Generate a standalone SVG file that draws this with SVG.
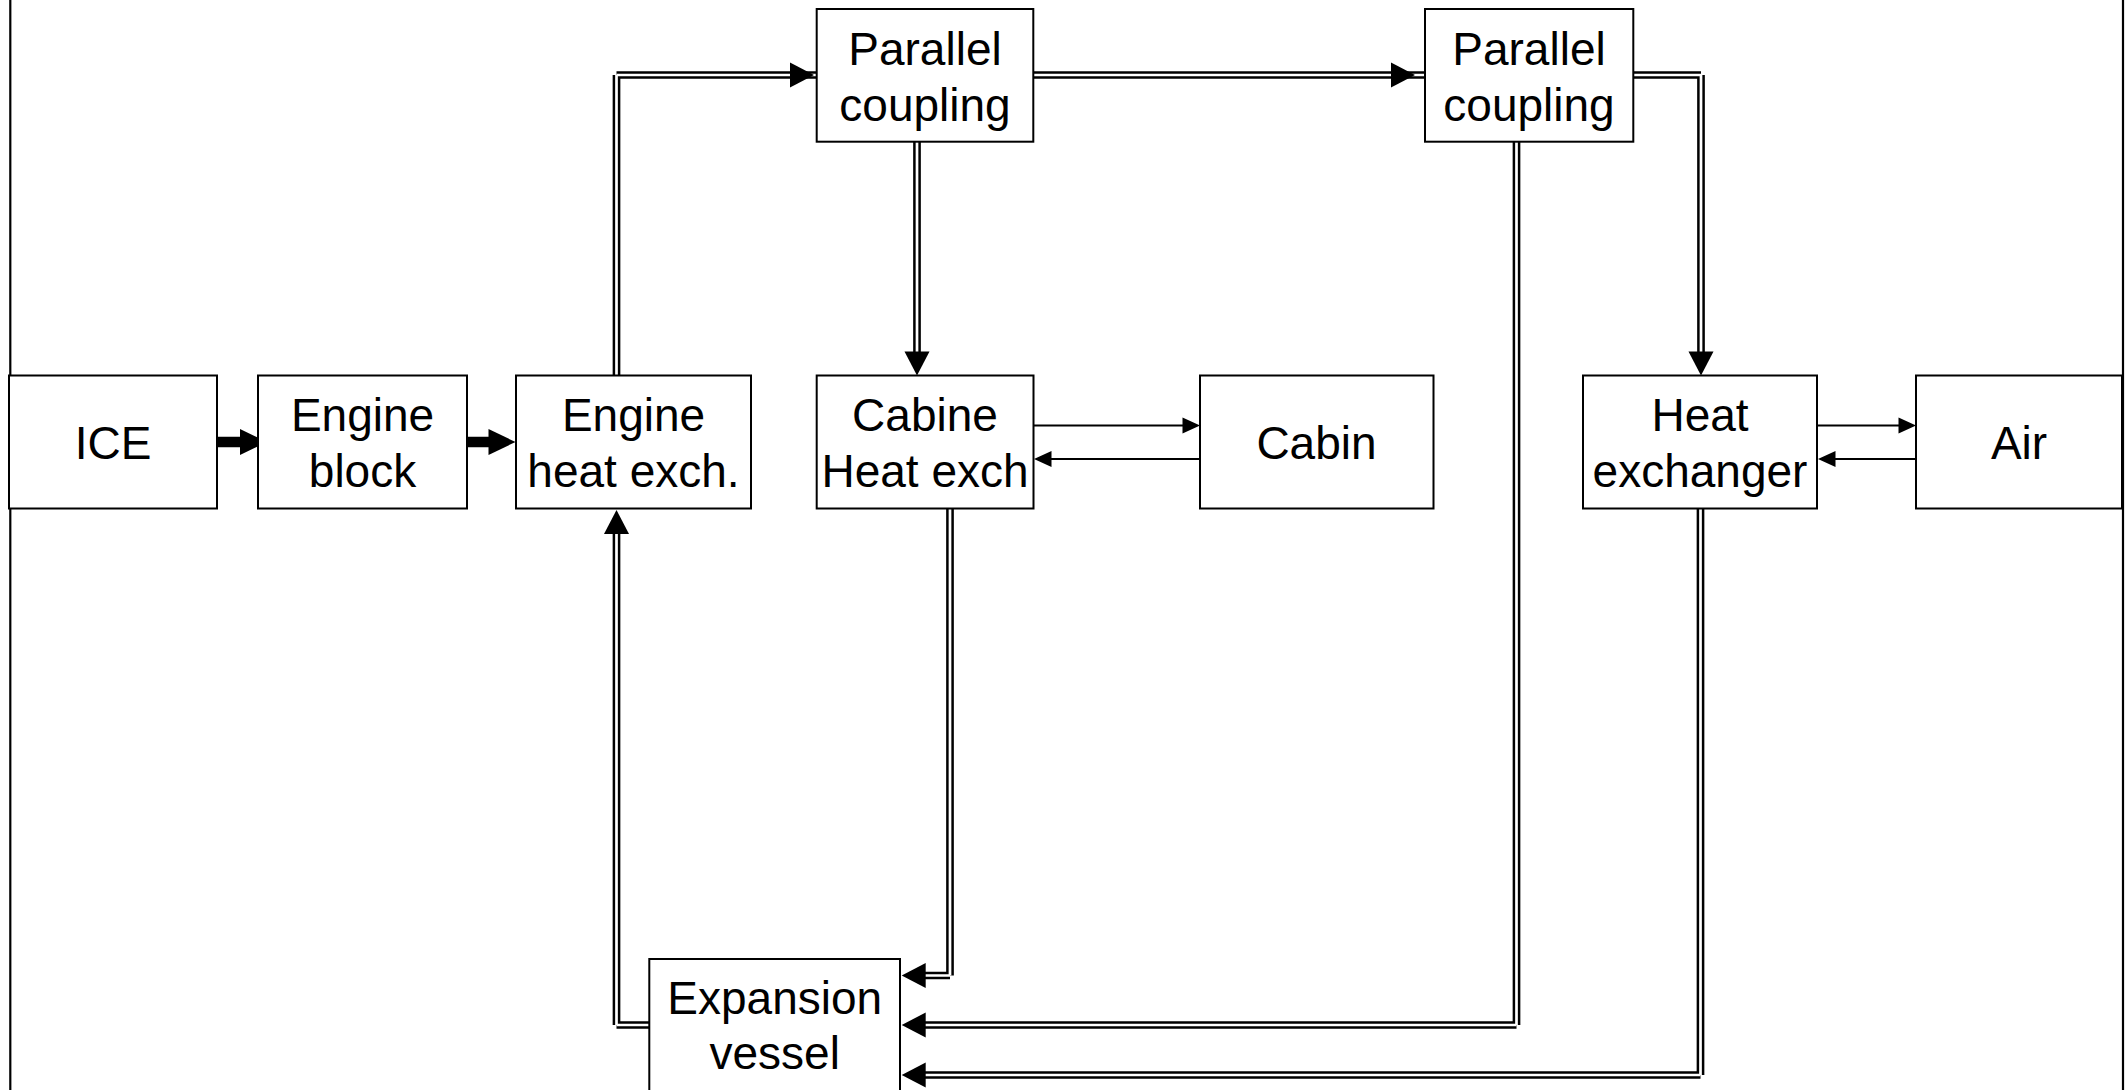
<svg xmlns="http://www.w3.org/2000/svg" xmlns:xlink="http://www.w3.org/1999/xlink" width="2127" height="1090" viewBox="0 0 2127 1090">
<style>
.box{fill:#fff;stroke:#000;stroke-width:2}
.lbl{font-family:"Liberation Sans",Arial,Helvetica,sans-serif;font-size:46px;fill:#000;text-anchor:middle}
.frame{stroke:#000;stroke-width:2.2;fill:none}
.db{fill:none;stroke:#000;stroke-width:7.7;stroke-linecap:butt}
.dw{fill:none;stroke:#fff;stroke-width:2.7;stroke-linecap:butt}
.thin{fill:none;stroke:#000;stroke-width:2}
.thick{fill:none;stroke:#000;stroke-width:10.5}
.ah{fill:#000}
</style>
<defs>
<polygon id="ahBig" points="-24,-12.5 0,0 -24,12.5"/>
<polygon id="ahSmall" points="-17.5,-8 0,0 -17.5,8"/>
<polygon id="ahThick" points="-27,-13 0,0 -27,13"/>
<path id="p1" d="M616.5,376 V75 M616.5,75 H816"/>
<path id="p2" d="M649,1025 H616.5 M616.5,1025 V530"/>
<path id="p3" d="M1034,75 H1425"/>
<path id="p4" d="M917,142 V355"/>
<path id="p5" d="M1516.5,142 V1025 M1516.5,1025 H925"/>
<path id="p6" d="M1633,75 H1701 M1701,75 V355"/>
<path id="p7" d="M950,509 V975.5 M950,975.5 H925"/>
<path id="p8" d="M1700.5,509 V1075 M1700.5,1075 H925"/>
</defs>
<rect x="0" y="0" width="2127" height="1090" fill="#fff"/>
<g id="frame">
<line class="frame" x1="10.3" y1="0" x2="10.3" y2="1090"/>
<line class="frame" x1="2123" y1="0" x2="2123" y2="1090"/>
</g>
<g id="connectors">
<use xlink:href="#p1" class="db"/><use xlink:href="#p2" class="db"/><use xlink:href="#p3" class="db"/><use xlink:href="#p4" class="db"/>
<use xlink:href="#p5" class="db"/><use xlink:href="#p6" class="db"/><use xlink:href="#p7" class="db"/><use xlink:href="#p8" class="db"/>
<use xlink:href="#p1" class="dw"/><use xlink:href="#p2" class="dw"/><use xlink:href="#p3" class="dw"/><use xlink:href="#p4" class="dw"/>
<use xlink:href="#p5" class="dw"/><use xlink:href="#p6" class="dw"/><use xlink:href="#p7" class="dw"/><use xlink:href="#p8" class="dw"/>
<use xlink:href="#ahBig" class="ah" transform="translate(814,75)"/>
<use xlink:href="#ahBig" class="ah" transform="translate(616.5,510) rotate(-90)"/>
<use xlink:href="#ahBig" class="ah" transform="translate(1415,75)"/>
<use xlink:href="#ahBig" class="ah" transform="translate(917,375.5) rotate(90)"/>
<use xlink:href="#ahBig" class="ah" transform="translate(1701,375.5) rotate(90)"/>
<use xlink:href="#ahBig" class="ah" transform="translate(901.7,975.5) rotate(180)"/>
<use xlink:href="#ahBig" class="ah" transform="translate(901.7,1025) rotate(180)"/>
<use xlink:href="#ahBig" class="ah" transform="translate(901.7,1075) rotate(180)"/>
<line class="thick" x1="217" y1="442" x2="242" y2="442"/>
<use xlink:href="#ahThick" class="ah" transform="translate(267,442)"/>
<line class="thick" x1="467" y1="442" x2="490" y2="442"/>
<use xlink:href="#ahThick" class="ah" transform="translate(515.5,442)"/>
<line class="thin" x1="1034" y1="425.5" x2="1184" y2="425.5"/>
<use xlink:href="#ahSmall" class="ah" transform="translate(1200,425.5)"/>
<line class="thin" x1="1200" y1="459" x2="1050" y2="459"/>
<use xlink:href="#ahSmall" class="ah" transform="translate(1034,459) rotate(180)"/>
<line class="thin" x1="1817" y1="425.5" x2="1900" y2="425.5"/>
<use xlink:href="#ahSmall" class="ah" transform="translate(1916,425.5)"/>
<line class="thin" x1="1916" y1="459" x2="1834" y2="459"/>
<use xlink:href="#ahSmall" class="ah" transform="translate(1818,459) rotate(180)"/>
</g>
<g id="ice"><rect class="box" x="9" y="375.5" width="208" height="133"/><text class="lbl" x="113" y="458.5">ICE</text></g>
<g id="engine-block"><rect class="box" x="258" y="375.5" width="209" height="133"/><text class="lbl" x="362.5" y="430.5">Engine</text><text class="lbl" x="362.5" y="486.5">block</text></g>
<g id="engine-hx"><rect class="box" x="516" y="375.5" width="235" height="133"/><text class="lbl" x="633.5" y="430.5">Engine</text><text class="lbl" x="633.5" y="486.5">heat exch.</text></g>
<g id="cabine-hx"><rect class="box" x="816.7" y="375.5" width="216.8" height="133"/><text class="lbl" x="925" y="430.5">Cabine</text><text class="lbl" x="925" y="486.5">Heat exch</text></g>
<g id="cabin"><rect class="box" x="1200" y="375.5" width="233.5" height="133"/><text class="lbl" x="1316.5" y="458.5">Cabin</text></g>
<g id="heat-exchanger"><rect class="box" x="1583" y="375.5" width="234" height="133"/><text class="lbl" x="1700" y="430.5">Heat</text><text class="lbl" x="1700" y="486.5">exchanger</text></g>
<g id="air"><rect class="box" x="1916" y="375.5" width="206" height="133"/><text class="lbl" x="2019" y="458.5">Air</text></g>
<g id="parallel-coupling-1"><rect class="box" x="816.7" y="9" width="216.6" height="132.7"/><text class="lbl" x="925" y="64.5">Parallel</text><text class="lbl" x="925" y="120.5">coupling</text></g>
<g id="parallel-coupling-2"><rect class="box" x="1425" y="9" width="208.3" height="132.7"/><text class="lbl" x="1529" y="64.5">Parallel</text><text class="lbl" x="1529" y="120.5">coupling</text></g>
<g id="expansion-vessel"><rect class="box" x="649.3" y="959" width="250.7" height="133"/><text class="lbl" x="774.7" y="1014">Expansion</text><text class="lbl" x="774.7" y="1069">vessel</text></g>
</svg>
